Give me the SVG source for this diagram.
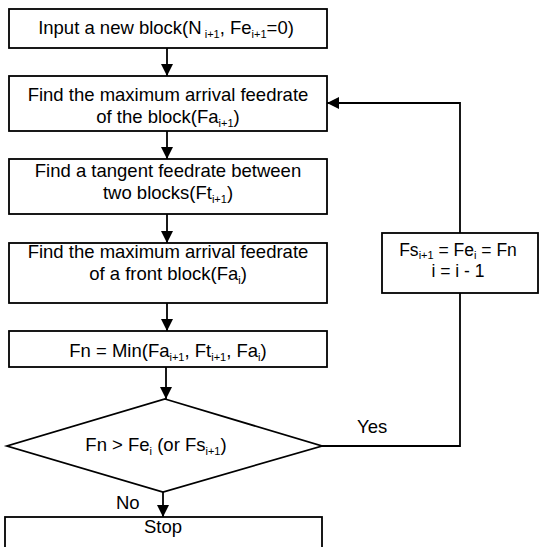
<svg xmlns="http://www.w3.org/2000/svg" width="539" height="547" viewBox="0 0 539 547">
<defs>
<style>
.box{fill:#fff;stroke:#000;stroke-width:1.8}
.ln{fill:none;stroke:#000;stroke-width:1.8}
text{font-family:"Liberation Sans",Arial,sans-serif;font-size:18.5px;fill:#000;text-anchor:middle}
.sm{font-size:17.5px}
.sub{font-size:11px}
.lbl{text-anchor:start}
</style>
<marker id="ah" viewBox="0 0 12 12" refX="12" refY="6" markerWidth="12" markerHeight="12" markerUnits="userSpaceOnUse" orient="auto">
<path d="M0,0 L12,6 L0,12 z" fill="#000"/>
</marker>
</defs>
<g id="connectors">
<line class="ln" x1="167" y1="48" x2="167" y2="76" marker-end="url(#ah)"/>
<line class="ln" x1="167" y1="131" x2="167" y2="159" marker-end="url(#ah)"/>
<line class="ln" x1="167" y1="214" x2="167" y2="243" marker-end="url(#ah)"/>
<line class="ln" x1="167" y1="303" x2="167" y2="331" marker-end="url(#ah)"/>
<line class="ln" x1="166" y1="367" x2="166" y2="399" marker-end="url(#ah)"/>
<line class="ln" x1="163" y1="492" x2="163" y2="517" marker-end="url(#ah)"/>
<polyline class="ln" points="322,446 460,446 460,293"/>
<polyline class="ln" points="460,233 460,103 327,103" marker-end="url(#ah)"/>
<text class="lbl" x="357" y="433">Yes</text>
<text class="lbl" x="116" y="509">No</text>
</g>
<g id="n1">
<rect class="box" x="9" y="9" width="318" height="39"/>
<text x="166" y="34">Input a new block(N<tspan class="sub" dy="4"> i+1</tspan><tspan dy="-4">, Fe</tspan><tspan class="sub" dy="4">i+1</tspan><tspan dy="-4">=0)</tspan></text>
</g>
<g id="n2">
<rect class="box" x="9" y="76" width="318" height="55"/>
<text x="168" y="101">Find the maximum arrival feedrate</text>
<text x="168" y="123">of the block(Fa<tspan class="sub" dy="4">i+1</tspan><tspan dy="-4">)</tspan></text>
</g>
<g id="n3">
<rect class="box" x="9" y="159" width="318" height="55"/>
<text x="168" y="177">Find a tangent feedrate between</text>
<text x="168" y="199">two blocks(Ft<tspan class="sub" dy="4">i+1</tspan><tspan dy="-4">)</tspan></text>
</g>
<g id="n4">
<rect class="box" x="9" y="243" width="318" height="60"/>
<text x="168" y="258">Find the maximum arrival feedrate</text>
<text x="168" y="280">of a front block(Fa<tspan class="sub" dy="4">i</tspan><tspan dy="-4">)</tspan></text>
</g>
<g id="n5">
<rect class="box" x="9" y="331" width="318" height="36"/>
<text x="168" y="357">Fn = Min(Fa<tspan class="sub" dy="4">i+1</tspan><tspan dy="-4">, Ft</tspan><tspan class="sub" dy="4">i+1</tspan><tspan dy="-4">, Fa</tspan><tspan class="sub" dy="4">i</tspan><tspan dy="-4">)</tspan></text>
</g>
<g id="n6">
<polygon class="box" points="165,399 322,446 163,492 7,446"/>
<text x="156" y="451">Fn &gt; Fe<tspan class="sub" dy="4">i</tspan><tspan dy="-4"> (or Fs</tspan><tspan class="sub" dy="4">i+1</tspan><tspan dy="-4">)</tspan></text>
</g>
<g id="n7">
<rect class="box" x="382" y="233" width="156" height="60"/>
<text class="sm" x="458" y="256">Fs<tspan class="sub" dy="3">i+1</tspan><tspan dy="-3"> = Fe</tspan><tspan class="sub" dy="3">i</tspan><tspan dy="-3"> = Fn</tspan></text>
<text class="sm" x="458" y="277">i = i - 1</text>
</g>
<g id="n8">
<rect class="box" x="5" y="517" width="317" height="40"/>
<text x="163" y="533">Stop</text>
</g>
</svg>
